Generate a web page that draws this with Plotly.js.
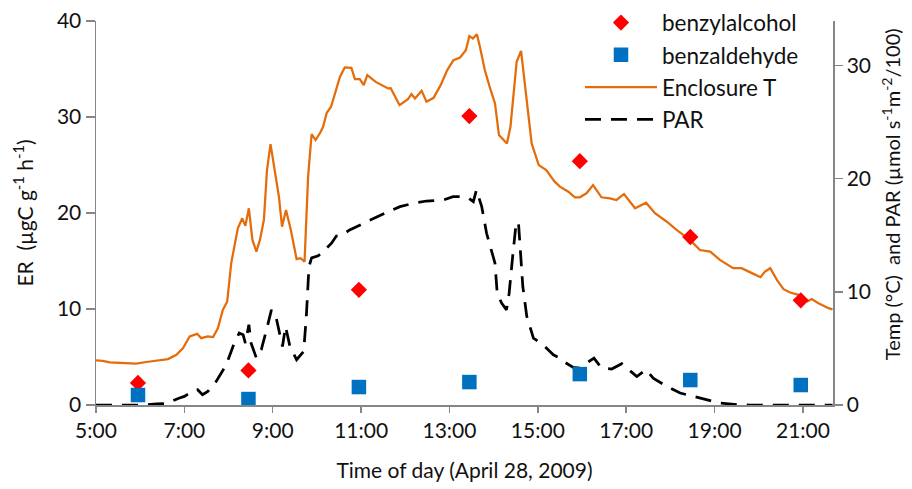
<!DOCTYPE html>
<html>
<head>
<meta charset="utf-8">
<script src="https://cdn.plot.ly/plotly-3.0.1.min.js"></script>
<style>html,body{margin:0;padding:0;background:#fff;}#chart{width:912px;height:489px;}</style>
</head>
<body>
<div id="chart"></div>
<script>
// Sample times (decimal hours) and ER values (µgC g-1 h-1)
const sampleHours = [5.95, 8.45, 10.95, 13.45, 15.95, 18.45, 20.95];
const benzylalcohol = [2.3, 3.6, 12.0, 30.1, 25.4, 17.5, 10.9];
const benzaldehyde = [1.04, 0.62, 1.87, 2.39, 3.22, 2.6, 2.08];

// Enclosure temperature (°C), decimal hours
const tempHours = [5.00, 5.15, 5.31, 5.61, 5.91, 6.14, 6.44, 6.63, 6.82, 6.97, 7.12, 7.29, 7.38, 7.53, 7.65, 7.76, 7.87, 7.97, 8.06, 8.21, 8.31, 8.38, 8.46, 8.54, 8.63, 8.71, 8.80, 8.87, 8.95, 9.05, 9.14, 9.21, 9.30, 9.41, 9.54, 9.63, 9.72, 9.80, 9.88, 9.97, 10.08, 10.14, 10.22, 10.32, 10.40, 10.52, 10.63, 10.78, 10.86, 10.97, 11.06, 11.14, 11.33, 11.61, 11.67, 11.87, 12.06, 12.14, 12.22, 12.37, 12.48, 12.64, 12.80, 12.95, 13.09, 13.24, 13.37, 13.45, 13.53, 13.62, 13.69, 13.80, 13.91, 14.03, 14.12, 14.30, 14.38, 14.52, 14.62, 14.74, 14.86, 15.02, 15.19, 15.38, 15.50, 15.69, 15.84, 15.95, 16.10, 16.25, 16.44, 16.63, 16.78, 16.95, 17.20, 17.45, 17.65, 17.92, 18.14, 18.44, 18.67, 18.90, 19.12, 19.42, 19.61, 19.88, 20.04, 20.14, 20.26, 20.41, 20.56, 20.71, 20.90, 21.00, 21.10, 21.20, 21.35, 21.58, 21.67];
const enclosureT = [3.94, 3.90, 3.76, 3.70, 3.65, 3.80, 4.00, 4.06, 4.44, 5.03, 6.06, 6.29, 5.91, 6.06, 6.00, 6.80, 8.41, 9.15, 12.53, 15.62, 16.50, 15.83, 17.39, 14.59, 13.56, 14.59, 16.36, 20.77, 23.06, 20.77, 18.41, 15.76, 17.24, 15.47, 12.89, 12.97, 12.67, 20.18, 23.94, 23.42, 24.1, 24.6, 25.8, 26.36, 27.4, 29.0, 29.83, 29.8, 28.8, 28.8, 28.27, 29.15, 28.56, 27.98, 28.0, 26.5, 27.03, 27.48, 27.1, 27.77, 26.8, 27.15, 28.27, 29.6, 30.48, 30.71, 31.36, 32.6, 32.39, 32.77, 31.65, 29.6, 28.12, 26.65, 23.86, 23.12, 24.59, 30.33, 31.3, 26.95, 23.12, 21.2, 20.77, 19.74, 19.3, 18.85, 18.36, 18.36, 18.71, 19.44, 18.36, 18.27, 18.12, 18.65, 17.39, 17.88, 16.95, 16.2, 15.47, 14.59, 13.7, 13.56, 12.82, 12.09, 12.09, 11.59, 11.3, 11.79, 12.09, 11.06, 10.24, 9.94, 9.74, 9.44, 9.15, 9.36, 9.0, 8.56, 8.45];

// PAR (µmol s-1 m-2 / 100), decimal hours
const parHours = [5.00, 6.00, 6.37, 6.59, 6.89, 7.00, 7.23, 7.30, 7.41, 7.53, 7.72, 7.95, 8.10, 8.24, 8.33, 8.38, 8.46, 8.51, 8.63, 8.74, 8.86, 8.97, 9.08, 9.16, 9.22, 9.29, 9.39, 9.54, 9.70, 9.76, 9.82, 9.88, 10.03, 10.14, 10.33, 10.44, 10.56, 10.74, 10.97, 11.20, 11.42, 11.61, 11.88, 12.18, 12.48, 12.86, 13.08, 13.24, 13.42, 13.54, 13.61, 13.73, 13.84, 13.95, 14.03, 14.08, 14.18, 14.29, 14.35, 14.43, 14.50, 14.56, 14.59, 14.66, 14.75, 14.90, 15.12, 15.35, 15.50, 15.58, 15.80, 15.95, 16.11, 16.27, 16.44, 16.67, 16.90, 17.01, 17.24, 17.45, 17.61, 17.92, 18.22, 18.52, 18.82, 19.12, 19.50, 19.80, 21.67];
const par = [0, 0, 0.09, 0.14, 0.62, 0.76, 1.35, 1.35, 0.91, 1.20, 2.08, 3.56, 5.17, 6.35, 6.20, 5.47, 7.09, 5.47, 4.15, 4.88, 6.65, 8.41, 7.68, 6.06, 5.17, 6.94, 5.17, 4.00, 4.73, 7.82, 12.23, 13.00, 13.18, 13.56, 14.30, 14.94, 15.00, 15.47, 15.91, 16.36, 16.80, 17.09, 17.53, 17.83, 18.03, 18.12, 18.41, 18.41, 18.32, 17.97, 19.00, 17.53, 15.18, 13.71, 12.53, 9.88, 9.00, 8.41, 9.88, 13.12, 15.76, 16.20, 14.59, 10.47, 7.82, 5.91, 5.32, 4.44, 4.15, 3.85, 3.32, 3.27, 3.71, 4.15, 3.27, 3.18, 3.65, 3.27, 2.52, 3.12, 2.38, 1.64, 1.06, 0.76, 0.47, 0.18, 0.03, 0, 0];

const xTickLabels = ['5:00', '7:00', '9:00', '11:00', '13:00', '15:00', '17:00', '19:00', '21:00'];
const rightTitle = 'Temp (°C)  and PAR (µmol s<sup>-1</sup>m<sup>-2</sup>/100)';

function toDate(h) {
  const s = Math.round(h * 3600);
  const hh = String(Math.floor(s / 3600)).padStart(2, '0');
  const mm = String(Math.floor((s % 3600) / 60)).padStart(2, '0');
  const ss = String(s % 60).padStart(2, '0');
  return '2009-04-28 ' + hh + ':' + mm + ':' + ss;
}

const FONT = 'Lato, "Open Sans", sans-serif';
const TXT = '#111111';
const AX = '#868686';

const traces = [
  {
    name: 'Enclosure T', x: tempHours.map(toDate), y: enclosureT, yaxis: 'y',
    type: 'scatter', mode: 'lines', line: {color: '#E46C0A', width: 2.25},
    legendgroup: 'g3', legendrank: 3, hoverinfo: 'skip'
  },
  {
    name: 'PAR', x: parHours.map(toDate), y: par, yaxis: 'y',
    type: 'scatter', mode: 'lines', line: {color: '#000000', width: 2.75, dash: '16px,10px'},
    legendgroup: 'g4', legendrank: 4, hoverinfo: 'skip'
  },
  {
    name: 'benzylalcohol', x: sampleHours.map(toDate), y: benzylalcohol, yaxis: 'y2',
    type: 'scatter', mode: 'markers', marker: {symbol: 'diamond', size: 12.5, color: '#FF0000'},
    legendgroup: 'g1', legendrank: 1, hoverinfo: 'skip'
  },
  {
    name: 'benzaldehyde', x: sampleHours.map(toDate), y: benzaldehyde, yaxis: 'y2',
    type: 'scatter', mode: 'markers', marker: {symbol: 'square', size: 14.5, color: '#0070C0'},
    legendgroup: 'g2', legendrank: 2, hoverinfo: 'skip'
  }
];

const layout = {
  width: 912, height: 489, autosize: false,
  margin: {l: 96, r: 79, t: 21, b: 84, pad: 0, autoexpand: false},
  paper_bgcolor: '#ffffff', plot_bgcolor: 'rgba(0,0,0,0)',
  font: {family: FONT, size: 21, color: TXT},
  showlegend: true,
  legend: {
    x: 0.6567, y: 1.051, xanchor: 'left', yanchor: 'top',
    bgcolor: 'rgba(0,0,0,0)', borderwidth: 0,
    font: {family: FONT, size: 22.5, color: TXT},
    itemwidth: 72, tracegroupgap: 0, traceorder: 'grouped'
  },
  xaxis: {
    type: 'date',
    range: [toDate(5.0), toDate(21.68)],
    tickmode: 'array',
    tickvals: [5, 7, 9, 11, 13, 15, 17, 19, 21].map(toDate),
    ticktext: xTickLabels,
    showgrid: false, zeroline: false, automargin: false,
    showline: true, linecolor: AX, linewidth: 1.5,
    ticks: 'outside', ticklen: 6, tickwidth: 1.5, tickcolor: AX,
    tickfont: {family: FONT, size: 21, color: TXT},
    title: {text: 'Time of day (April 28, 2009)', font: {family: FONT, size: 21, color: TXT}, standoff: 22}
  },
  yaxis: {
    side: 'right', range: [0, 33.94], tickvals: [0, 10, 20, 30],
    showgrid: false, zeroline: false, automargin: false,
    showline: true, linecolor: AX, linewidth: 1.5,
    ticks: 'outside', ticklen: 8, tickwidth: 1.5, tickcolor: AX,
    tickfont: {family: FONT, size: 21, color: TXT}
  },
  yaxis2: {
    overlaying: 'y', side: 'left', range: [0, 40], tickvals: [0, 10, 20, 30, 40],
    showgrid: false, zeroline: false, automargin: false,
    showline: true, linecolor: AX, linewidth: 1.5,
    ticks: 'outside', ticklen: 9, tickwidth: 1.5, tickcolor: AX,
    tickfont: {family: FONT, size: 21, color: TXT},
    title: {text: 'ER  (µgC g<sup>-1</sup> h<sup>-1</sup>)', font: {family: FONT, size: 21, color: TXT}, standoff: 17}
  },
  yaxis3: {
    overlaying: 'y', side: 'right', range: [0, 33.94], tickvals: [0, 10, 20, 30],
    showgrid: false, zeroline: false, showline: false, showticklabels: false, automargin: false,
    ticks: 'inside', ticklen: 8, tickwidth: 1.5, tickcolor: AX
  },
  annotations: [{
    text: rightTitle, textangle: -90,
    xref: 'paper', yref: 'paper', x: 1, y: 0.549,
    xanchor: 'center', yanchor: 'middle', xshift: 58,
    showarrow: false, font: {family: FONT, size: 20, color: TXT}
  }]
};

Plotly.newPlot('chart', traces, layout, {staticPlot: true, displayModeBar: false});
</script>
</body>
</html>
